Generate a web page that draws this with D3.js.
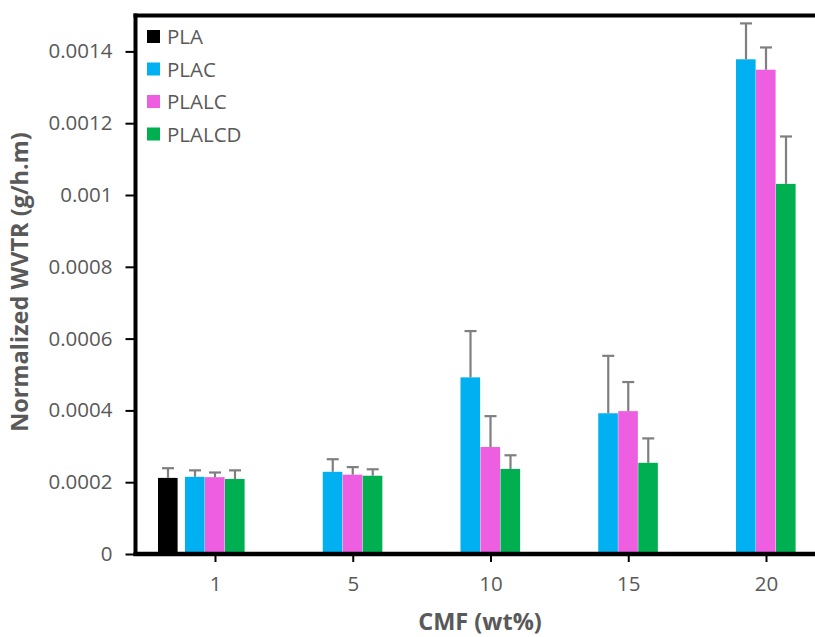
<!DOCTYPE html>
<html>
<head>
<meta charset="utf-8">
<script src="https://cdn.jsdelivr.net/npm/d3@7/dist/d3.min.js"></script>
<style>
  html, body { margin: 0; padding: 0; background: #fff; }
  svg { display: block; }
</style>
</head>
<body>
<svg id="chart" width="815" height="637"></svg>
<script>
// ---- data ----
const categories = ["1", "5", "10", "15", "20"];
const seriesNames = ["PLAC", "PLALC", "PLALCD"];
const legendNames = ["PLA", "PLAC", "PLALC", "PLALCD"];
const plaCategory = "1";
const plaValue = 0.000212;
const plaError = 0.000027;
const placValues   = [0.000215, 0.000229, 0.000492, 0.000392, 0.001378];
const placErrors   = [0.000018, 0.000035, 0.000129, 0.000160, 0.000100];
const plalcValues  = [0.000214, 0.000221, 0.000298, 0.000398, 0.001349];
const plalcErrors  = [0.000013, 0.000021, 0.000086, 0.000081, 0.000062];
const plalcdValues = [0.000209, 0.000218, 0.000237, 0.000254, 0.001031];
const plalcdErrors = [0.000024, 0.000018, 0.000038, 0.000068, 0.000132];
const yTicks = [0, 0.0002, 0.0004, 0.0006, 0.0008, 0.001, 0.0012, 0.0014];
const yTickLabels = ["0", "0.0002", "0.0004", "0.0006", "0.0008", "0.001", "0.0012", "0.0014"];

(function () {
const colors = { PLA: "#000000", PLAC: "#00b0f0", PLALC: "#ed5fe0", PLALCD: "#00b050" };
const seriesData = {
  PLAC: { values: placValues, errors: placErrors },
  PLALC: { values: plalcValues, errors: plalcErrors },
  PLALCD: { values: plalcdValues, errors: plalcdErrors }
};

// ---- layout ----
const svg = d3.select("#chart");
const font = "'Open Sans', 'DejaVu Sans', sans-serif";
const textColor = "#595959";
const mLeft = 135.5, mTop = 15.5, mBottom = 554, mRight = 840;

const y = d3.scaleLinear().domain([0, 0.0015]).range([mBottom, mTop]);
const x = d3.scalePoint().domain(categories).range([215, 766]);
const xInner = d3.scaleBand().domain(seriesNames).range([-30, 30]).padding(0);
const bw = xInner.bandwidth();
const plaOffset = -57;

// bars
const bars = [];
seriesNames.forEach(s => {
  categories.forEach((c, i) => {
    bars.push({ series: s, cat: c, value: seriesData[s].values[i], err: seriesData[s].errors[i],
      x: x(c) + xInner(s) });
  });
});
bars.unshift({ series: "PLA", cat: plaCategory, value: plaValue, err: plaError, x: x(plaCategory) + plaOffset });

const g = svg.append("g");
g.selectAll("rect.bar").data(bars).enter().append("rect")
  .attr("class", "bar")
  .attr("x", d => d.x)
  .attr("width", bw - 0.4)
  .attr("y", d => y(d.value))
  .attr("height", d => y(0) - y(d.value))
  .attr("fill", d => colors[d.series]);

// error bars (upper only)
const eg = g.selectAll("g.err").data(bars).enter().append("g").attr("class", "err")
  .attr("stroke", "#7f7f7f").attr("stroke-width", 2.2);
eg.append("line")
  .attr("x1", d => d.x + bw / 2).attr("x2", d => d.x + bw / 2)
  .attr("y1", d => y(d.value)).attr("y2", d => y(d.value + d.err));
eg.append("line")
  .attr("x1", d => d.x + bw / 2 - 6).attr("x2", d => d.x + bw / 2 + 6)
  .attr("y1", d => y(d.value + d.err)).attr("y2", d => y(d.value + d.err));

// frame: top + left
svg.append("line").attr("x1", mLeft - 2).attr("x2", mRight).attr("y1", mTop).attr("y2", mTop)
  .attr("stroke", "#000").attr("stroke-width", 4);
svg.append("line").attr("x1", mLeft).attr("x2", mLeft).attr("y1", mTop - 2).attr("y2", mBottom + 2)
  .attr("stroke", "#000").attr("stroke-width", 4);

// y axis ticks and labels
const yAxis = d3.axisLeft(y).tickValues(yTicks)
  .tickFormat((d, i) => yTickLabels[i]).tickSizeInner(9).tickSizeOuter(0).tickPadding(13);
const ya = svg.append("g").attr("transform", `translate(${mLeft - 1},0)`).call(yAxis);
ya.select(".domain").remove();
ya.selectAll(".tick line").attr("stroke", "#000").attr("stroke-width", 2);
ya.selectAll(".tick text").attr("fill", textColor).style("font-family", font).style("font-size", "20.5px");

// x axis
const xAxis = d3.axisBottom(x).tickSizeInner(8).tickSizeOuter(0).tickPadding(14);
const xa = svg.append("g").attr("transform", `translate(0,${mBottom})`).call(xAxis);
xa.select(".domain").remove();
xa.selectAll(".tick line").attr("stroke", "#000").attr("stroke-width", 2);
xa.selectAll(".tick text").attr("fill", textColor).style("font-family", font).style("font-size", "20.5px");
svg.append("line").attr("x1", mLeft - 2).attr("x2", mRight).attr("y1", mBottom).attr("y2", mBottom)
  .attr("stroke", "#000").attr("stroke-width", 4.5);

// axis titles
svg.append("text")
  .attr("transform", `translate(28,282) rotate(-90)`)
  .attr("text-anchor", "middle")
  .attr("fill", textColor)
  .style("font-family", font).style("font-size", "23.5px").style("font-weight", "bold")
  .text("Normalized WVTR (g/h.m)");
svg.append("text")
  .attr("x", 480).attr("y", 630)
  .attr("text-anchor", "middle")
  .attr("fill", textColor)
  .style("font-family", font).style("font-size", "23.5px").style("font-weight", "bold")
  .text("CMF (wt%)");

// legend
const legendY = d3.scalePoint().domain(legendNames).range([36.5, 134]);
const lg = svg.append("g").selectAll("g").data(legendNames).enter().append("g")
  .attr("transform", d => `translate(147,${legendY(d)})`);
lg.append("rect").attr("x", 0).attr("y", -6.5).attr("width", 13).attr("height", 13)
  .attr("fill", d => colors[d]);
lg.append("text").attr("x", 20).attr("y", 7.5)
  .attr("fill", textColor)
  .style("font-family", font).style("font-size", "20.5px")
  .text(d => d);
})();
</script>
</body>
</html>
